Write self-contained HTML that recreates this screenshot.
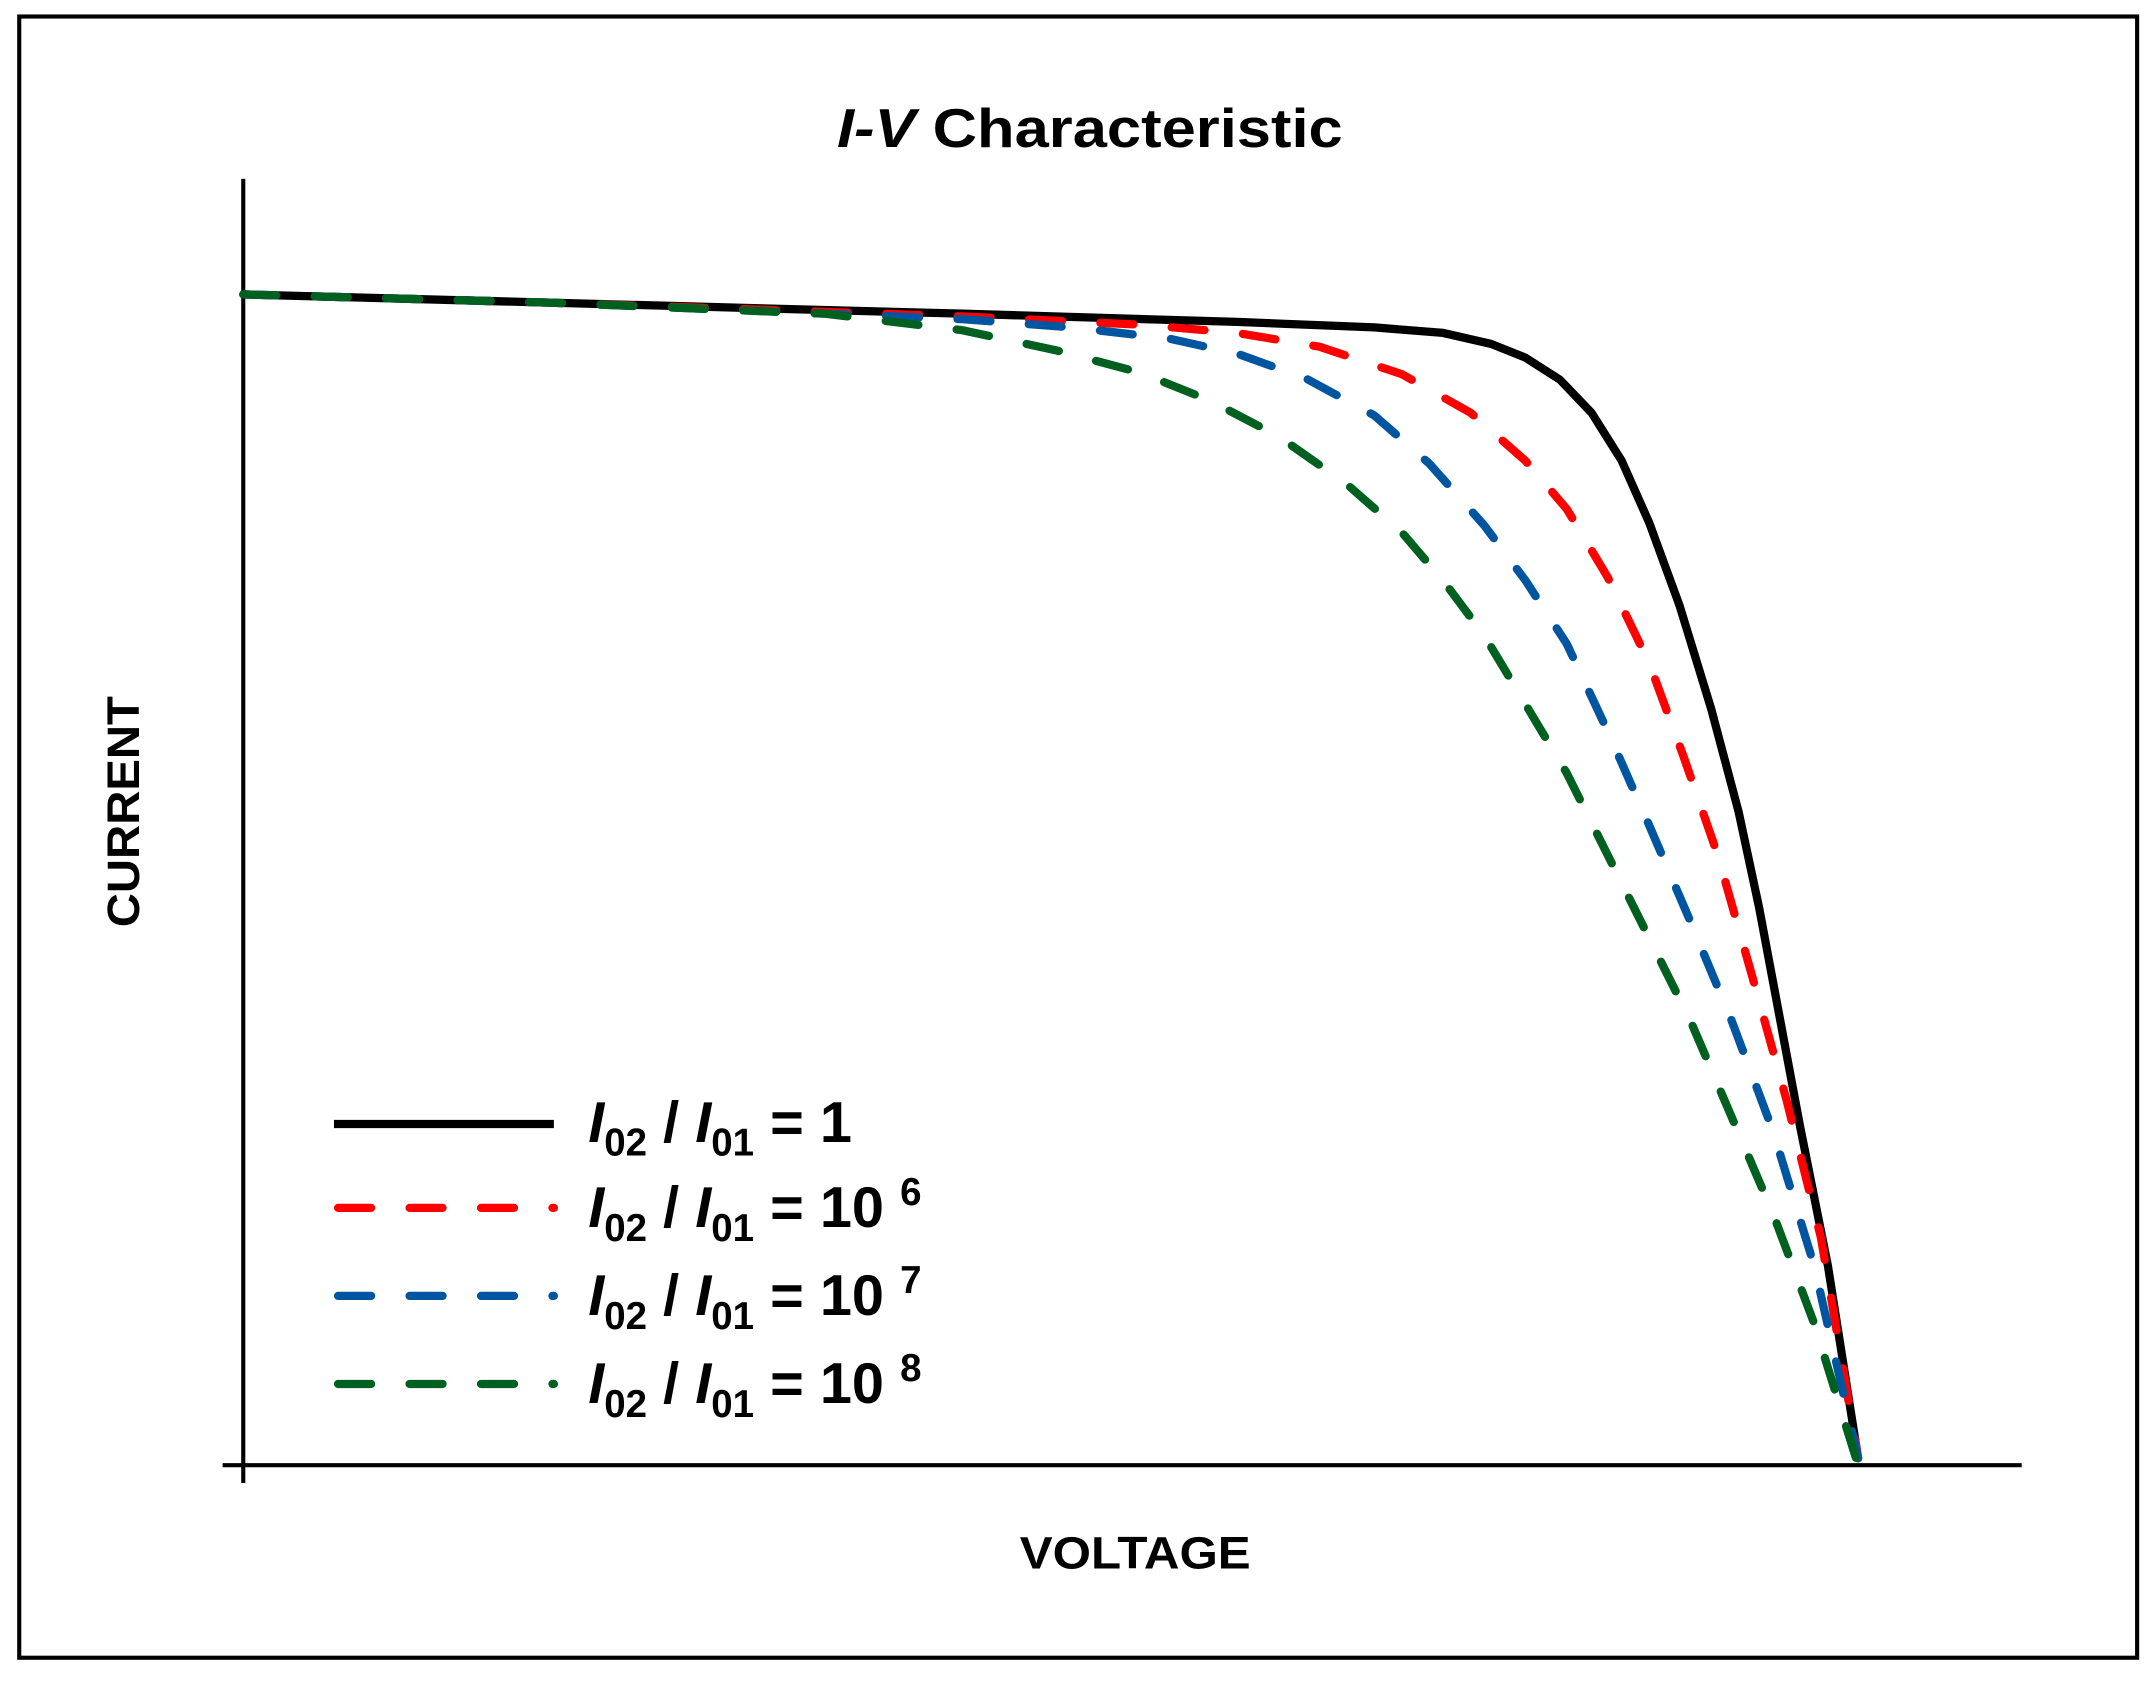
<!DOCTYPE html>
<html><head><meta charset="utf-8"><style>html,body{margin:0;padding:0;background:#fff}svg{display:block}</style></head>
<body>
<svg width="2155" height="1688" viewBox="0 0 1568 1227" preserveAspectRatio="none" xmlns="http://www.w3.org/2000/svg" font-family="Liberation Sans, sans-serif" font-weight="bold">
<rect x="0" y="0" width="1568" height="1227" fill="#fff"/>
<rect x="14" y="12" width="1541" height="1193" fill="none" stroke="#000" stroke-width="3"/>
<text x="793" y="107" font-size="40" text-anchor="middle" textLength="368" lengthAdjust="spacingAndGlyphs"><tspan font-style="italic">I-V</tspan> Characteristic</text>
<line x1="177" y1="130" x2="177" y2="1078" stroke="#000" stroke-width="3"/>
<line x1="162" y1="1065" x2="1471" y2="1065" stroke="#000" stroke-width="3"/>
<text transform="translate(101,590) rotate(-90)" font-size="33" text-anchor="middle" textLength="168" lengthAdjust="spacingAndGlyphs">CURRENT</text>
<text x="826" y="1140" font-size="33" text-anchor="middle" textLength="168" lengthAdjust="spacingAndGlyphs">VOLTAGE</text>
<g fill="none" stroke-width="6" stroke-linejoin="round">
<polyline stroke="#000" points="177,214 400,220 700,228 900,234 1000,238 1050,242 1085,250 1110,260 1135,276 1158,300 1180,335 1200,380 1222,440 1245,515 1265,590 1280,660 1295,740 1310,820 1330,920 1352,1060"/>
<g stroke-linecap="round" stroke-dasharray="24,28">
<polyline stroke="#ff0000" points="177,214 400,220 700,230 830,236 900,242 960,252 1020,272 1070,300 1110,335 1140,370 1170,420 1200,482 1225,550 1250,622 1275,710 1300,800 1325,900 1352,1060"/>
<polyline stroke="#0055a0" points="177,214 400,220 700,232 780,238 850,246 900,257 950,275 1000,302 1040,337 1080,382 1110,422 1140,468 1170,532 1200,600 1230,670 1260,742 1290,822 1320,920 1352,1060"/>
<polyline stroke="#006020" points="177,214 400,220 600,228 700,240 770,255 830,271 880,291 930,317 980,352 1020,387 1050,422 1080,462 1110,512 1140,562 1170,622 1200,682 1230,742 1260,812 1290,882 1320,962 1352,1065"/>
</g>
<line x1="243" y1="817" x2="403" y2="817" stroke="#000"/>
<g stroke-linecap="round" stroke-dasharray="24,28">
<line x1="246" y1="878" x2="403" y2="878" stroke="#ff0000"/>
<line x1="246" y1="942" x2="403" y2="942" stroke="#0055a0"/>
<line x1="246" y1="1006" x2="403" y2="1006" stroke="#006020"/>
</g>
</g>
<g font-size="42">
<text x="428" y="830"><tspan font-style="italic">I</tspan><tspan font-size="28" dy="10">02</tspan><tspan dy="-10"> / </tspan><tspan font-style="italic">I</tspan><tspan font-size="28" dy="10">01</tspan><tspan dy="-10"> = 1</tspan></text>
<text x="428" y="892"><tspan font-style="italic">I</tspan><tspan font-size="28" dy="10">02</tspan><tspan dy="-10"> / </tspan><tspan font-style="italic">I</tspan><tspan font-size="28" dy="10">01</tspan><tspan dy="-10"> = 10 </tspan><tspan font-size="28" dy="-16">6</tspan></text>
<text x="428" y="956"><tspan font-style="italic">I</tspan><tspan font-size="28" dy="10">02</tspan><tspan dy="-10"> / </tspan><tspan font-style="italic">I</tspan><tspan font-size="28" dy="10">01</tspan><tspan dy="-10"> = 10 </tspan><tspan font-size="28" dy="-16">7</tspan></text>
<text x="428" y="1020"><tspan font-style="italic">I</tspan><tspan font-size="28" dy="10">02</tspan><tspan dy="-10"> / </tspan><tspan font-style="italic">I</tspan><tspan font-size="28" dy="10">01</tspan><tspan dy="-10"> = 10 </tspan><tspan font-size="28" dy="-16">8</tspan></text>
</g>
</svg>
</body></html>
